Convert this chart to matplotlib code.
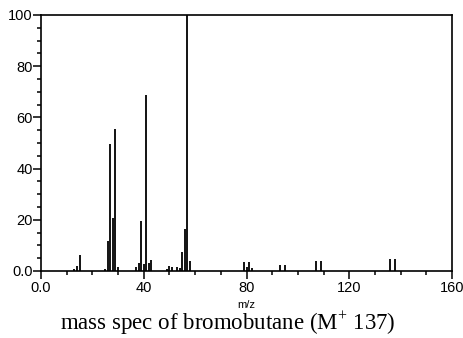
import matplotlib
matplotlib.use("Agg")
import matplotlib.pyplot as plt
from matplotlib.ticker import MultipleLocator

# m/z values and relative intensities
mz = [13, 14, 15, 25, 26, 27, 28, 29, 30,
      37, 38, 39, 40, 41, 42, 43,
      49, 50, 51, 53, 54, 55, 56, 57, 58,
      79, 80, 81, 82, 93, 95, 107, 109, 136, 138]
intensity = [0.8, 1.8, 6.1, 0.8, 11.7, 49.6, 20.6, 55.5, 1.5,
             1.4, 3.1, 19.6, 2.9, 68.6, 3.1, 4.2,
             0.7, 1.8, 1.5, 1.4, 1.0, 7.3, 16.4, 100.0, 4.0,
             3.5, 1.7, 3.5, 1.0, 2.5, 2.5, 3.9, 3.9, 4.8, 4.8]

x_ticks = [0, 40, 80, 120, 160]
x_tick_labels = ["0.0", "40", "80", "120", "160"]
y_ticks = [0, 20, 40, 60, 80, 100]
y_tick_labels = ["0.0", "20", "40", "60", "80", "100"]

plt.rcParams['font.family'] = ['Liberation Sans', 'DejaVu Sans']
plt.rcParams['mathtext.fontset'] = 'custom'
plt.rcParams['mathtext.rm'] = 'Liberation Serif'

fig = plt.figure(figsize=(4.63, 3.38), dpi=100)
ax = fig.add_axes([41 / 463, 1 - 271 / 338, 411 / 463, 256 / 338])

ax.vlines(mz, 0, intensity, colors="black", linewidth=1.3)

ax.set_xlim(0, 160)
ax.set_ylim(0, 100)
ax.set_xticks(x_ticks)
ax.set_xticklabels(x_tick_labels)
ax.set_yticks(y_ticks)
ax.set_yticklabels(y_tick_labels)
ax.xaxis.set_minor_locator(MultipleLocator(10))
ax.yaxis.set_minor_locator(MultipleLocator(5))

ax.tick_params(axis="both", which="major", direction="out", length=5.5,
               width=1.1, labelsize=10.5, pad=2, colors="black")
ax.tick_params(axis="both", which="minor", direction="out", length=3,
               width=1.1)
ax.tick_params(axis="y", which="major", pad=0.5)

for s in ax.spines.values():
    s.set_linewidth(1.2)

ax.set_xlabel("m/z", fontsize=8, labelpad=3)

fig.text(228 / 463, 1 - 330 / 338, "mass spec of bromobutane (M$^{\\mathrm{+}}$ 137)",
         ha="center", va="baseline", fontsize=16.5, family="Liberation Serif")

fig.savefig("out.png", dpi=100)
